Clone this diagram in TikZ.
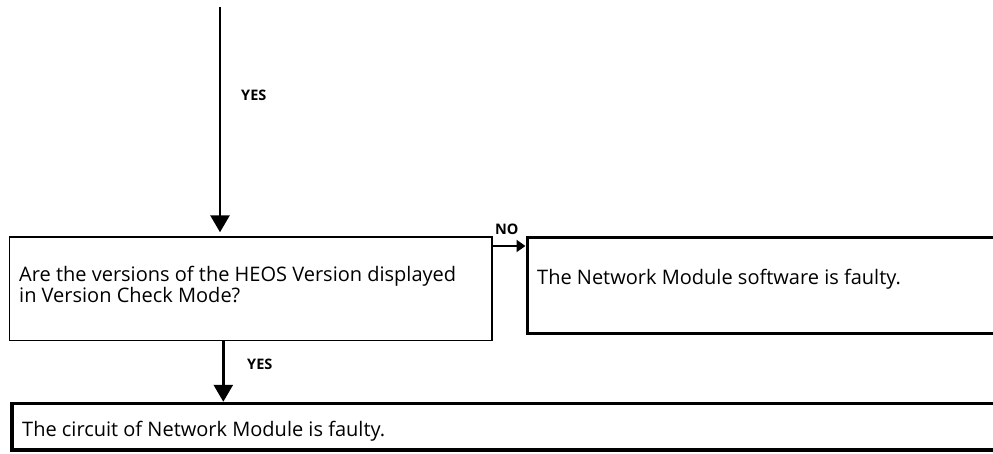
\documentclass[tikz,border=0pt]{standalone}
\usepackage{fontspec}
\setmainfont{Open Sans}
\usetikzlibrary{arrows.meta,calc}
\tikzset{
  boxthin/.style={draw, rectangle, anchor=south west, line width=1.4pt, inner sep=0pt},
  boxthick/.style={draw, rectangle, anchor=south west, line width=3.5pt, inner sep=0pt},
  boxtext/.style={anchor=base west, inner sep=0pt, align=left, font=\fontsize{20}{16.8}\selectfont},
  bigarrow/.style={line width=2.8pt, -{Triangle[length=17pt,width=19pt]}},
  smallarrow/.style={line width=2pt, -{Triangle[length=9pt,width=12pt]}},
  lbl/.style={anchor=base west, inner sep=0pt, font=\bfseries\fontsize{14.5}{16}\selectfont}
}
\begin{document}
\begin{tikzpicture}[x=1pt,y=1pt]
\useasboundingbox (0,0) rectangle (993,454);
\clip (0,0) rectangle (993,454);
\node[boxthin, minimum width=482.6pt, minimum height=103.3pt] (q) at (8.7,113) {};
\node[boxthick, minimum width=490pt, minimum height=96pt] (r) at (525.5,118.5) {};
\node[boxthick, minimum width=1000pt, minimum height=46.7pt] (b) at (10,2) {};
\node[boxtext] (qt) at (19,151.3) {Are the versions of the HEOS Version displayed\\in Version Check Mode?};
\node[boxtext] (rt) at (537,169.7) {The Network Module software is faulty.};
\node[boxtext] (bt) at (22,17.3) {The circuit of Network Module is faulty.};
\coordinate (top) at (220,447);
\coordinate (qs) at (223.3,113);
\coordinate (qe) at (491.3,208);
\draw[bigarrow, shorten >=4pt] (top) -- (top |- q.north);
\draw[bigarrow] (qs) -- (qs |- b.north);
\draw[smallarrow] (qe) -- (qe -| r.west);
\node[lbl] (y1) at (241,353) {YES};
\node[lbl] (y2) at (247,84) {YES};
\node[lbl] (no) at (495,219) {NO};
\end{tikzpicture}
\end{document}
